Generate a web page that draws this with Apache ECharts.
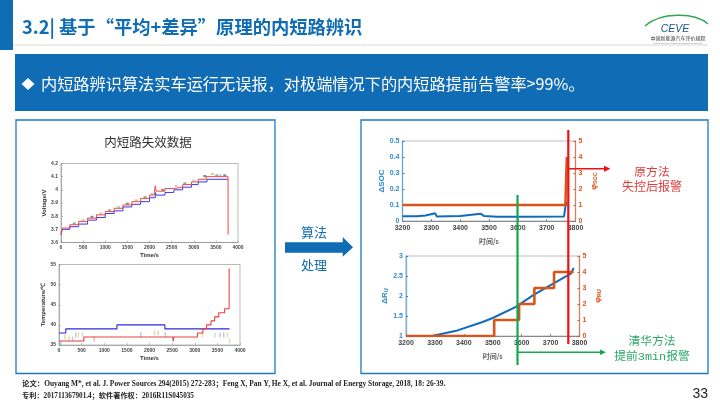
<!DOCTYPE html>
<html lang="zh">
<head>
<meta charset="UTF-8">
<title>内短路辨识</title>
<script src="https://cdn.jsdelivr.net/npm/echarts@6/dist/echarts.min.js"></script>
<style>
html,body{margin:0;padding:0;background:#fff}
#main{width:720px;height:405px}
</style>
</head>
<body>
<div id="main"></div>
<script>
// 电压 (左上)
var voltRedTime = [0,30,200,400,600,800,1000,1200,1400,1600,1800,2000,2110,2130,2150,2350,2550,2750,2950,3100,3280,3775,3776];
var voltRedVal  = [3.66,3.71,3.735,3.76,3.785,3.81,3.835,3.86,3.885,3.91,3.935,3.96,3.98,4.03,3.99,4.01,4.02,4.04,4.06,4.08,4.10,4.10,3.66];
var voltBlueTime = [0,30,200,400,600,800,1000,1200,1400,1600,1800,2000,2130,2150,2350,2550,2750,2950,3100,3300,3775];
var voltBlueVal  = [3.66,3.70,3.72,3.74,3.77,3.79,3.82,3.84,3.87,3.89,3.91,3.94,3.98,3.96,3.98,4.00,4.02,4.04,4.06,4.08,4.08];
var voltDotTime = [300,500,700,900,1100,1300,1500,1700,1900,2050,2300,2600,2800,3000,3250,3420,3520,3600,3700];
var voltDotVal  = [3.745,3.77,3.795,3.82,3.845,3.87,3.895,3.92,3.945,3.97,4.0,4.03,4.05,4.07,4.105,4.12,4.11,4.11,4.11];

// 温度 (左下)
var tempRedTime = [0,550,2520,2535,3060,3180,3260,3360,3440,3530,3660,3760,3770];
var tempRedVal  = [36,37,36,37,38,39,40,41,42,43,44,54,54];
var tempBlueTime = [0,150,1280,2340,3770];
var tempBlueVal  = [38,39,40,39,39];
var tempPaleTime = [40,130,220,300,370,430,520,780,1810,2110,2190,2350,2530,3170,3450,3560,3640,3720,3770];
var tempPaleVal  = [35.4,37,36.5,36.5,37.5,37.5,37.5,36.5,37.6,38,38,37.6,36.5,37.5,37.5,37.5,37.5,37.5,36];

// ΔSOC (右上)
var socTime = [3200,3250,3280,3313,3319,3400,3472,3482,3530,3640,3760,3765,3770];
var socDelta = [0.03,0.03,0.035,0.048,0.028,0.032,0.045,0.032,0.027,0.027,0.028,0.09,0.12];
var phiSocTime = [3200,3765,3770];
var phiSoc = [1,1,4];

// ΔRU (右下)
var ruTime = [3200,3290,3378,3465,3500,3580,3640,3700,3770,3780];
var ruDelta = [1,1,1.14,1.35,1.45,1.73,2.02,2.27,2.56,2.7];
var phiRuTime = [3200,3505,3591,3644,3712,3780];
var phiRu = [0,1,2,3,4,4];

var CJK = '"Noto Sans CJK SC"';
var BLUE = '#0f6cb5', MBLUE = '#2a8ad0', MORANGE = '#d9541a';
var RED = '#ee1111', GREEN = '#11a84e';

function zip(a, b) { return a.map(function (v, i) { return [v, b[i]]; }); }
function plain(v) { return String(v); }

function smallX(i, name) {
  return {
    type: 'value', gridIndex: i, min: 0, max: 4000, interval: 500,
    name: name, nameLocation: 'middle', nameGap: 10,
    nameTextStyle: { fontSize: 6, fontWeight: 'bold', color: '#333' },
    axisLine: { onZero: false, lineStyle: { color: '#888', width: 0.6 } },
    axisTick: { inside: true, length: 2, lineStyle: { color: '#888', width: 0.5 } },
    axisLabel: { fontSize: 5, margin: 3, color: '#444', fontWeight: 'bold', formatter: plain, showMinLabel: true, showMaxLabel: true },
    splitLine: { show: false }
  };
}
function smallY(i, name, min, max, interval, gap) {
  return {
    type: 'value', gridIndex: i, min: min, max: max, interval: interval,
    name: name, nameLocation: 'middle', nameGap: gap,
    nameTextStyle: { fontSize: 6, fontWeight: 'bold', color: '#333' },
    axisLine: { lineStyle: { color: '#888', width: 0.6 } },
    axisTick: { inside: true, length: 2, lineStyle: { color: '#888', width: 0.5 } },
    axisLabel: { fontSize: 5, margin: 3, color: '#444', fontWeight: 'bold' },
    splitLine: { show: false }
  };
}
function bigX(i) {
  return {
    type: 'value', gridIndex: i, min: 3200, max: 3800, interval: 100,
    name: '时间/s', nameLocation: 'middle', nameGap: 17,
    nameTextStyle: { fontSize: 7, color: '#666', fontFamily: CJK, fontWeight: 'bold' },
    axisLine: { onZero: false, lineStyle: { color: '#888', width: 1 } },
    axisTick: { inside: true, length: 2, lineStyle: { color: '#888' } },
    axisLabel: { fontSize: 7, margin: 4, color: '#444', fontWeight: 'bold', formatter: plain },
    splitLine: { show: false }
  };
}
function bigY(i, name, min, max, interval, color, pos) {
  return {
    type: 'value', gridIndex: i, position: pos, min: min, max: max, interval: interval,
    name: name, nameLocation: 'middle', nameGap: pos == 'left' ? 16 : 13, nameRotate: 90,
    nameTextStyle: {
      fontSize: 8, color: color, fontWeight: 'bold',
      rich: { s: { fontSize: 5.5, color: color, fontWeight: 'bold', verticalAlign: 'bottom', padding: [4, 0, 0, 0] },
              n: { fontSize: 8, color: color, fontWeight: 'bold' } }
    },
    axisLine: { show: true, onZero: false, lineStyle: { color: color, opacity: 0.55, width: 1.4 } },
    axisTick: { show: true, inside: true, length: 2, lineStyle: { color: color } },
    axisLabel: { fontSize: 7, margin: 3, color: color, fontWeight: 'bold' },
    splitLine: { show: false }
  };
}
function stepLine(x, y, xi, yi, color, width, step) {
  return {
    type: 'line', xAxisIndex: xi, yAxisIndex: yi, data: zip(x, y), step: step ? 'end' : false,
    showSymbol: false, silent: true, animation: false,
    lineStyle: { color: color, width: width }
  };
}
function pale(x, y, xi, yi, size, colors) {
  return {
    type: 'scatter', xAxisIndex: xi, yAxisIndex: yi, data: zip(x, y), symbol: 'rect', symbolSize: size,
    silent: true, animation: false,
    itemStyle: { color: function (p) { return colors[p.dataIndex % colors.length]; }, opacity: 0.7 }
  };
}
function label(x, y, text, fill, size, family) {
  return { type: 'text', x: x, y: y, style: { text: text, fill: fill, fontSize: size, fontFamily: family || CJK, align: 'center', verticalAlign: 'middle' } };
}

// 页面上的框、文字、标注
var frame = { stroke: '#1f78c1', lineWidth: 1.3, fill: 'none' };
var graphics = [
  { type: 'rect', shape: { x: 0, y: 0, width: 13, height: 50 }, style: { fill: BLUE } },
  { type: 'line', shape: { x1: 13, y1: 45, x2: 708, y2: 45 }, style: { stroke: '#d8d8d8', lineWidth: 1 } },
  { type: 'text', x: 22, y: 27, style: { text: '3.2| 基于“平均+差异”原理的内短路辨识', fill: BLUE, fontSize: 18.3, fontWeight: 'bold', fontFamily: CJK, verticalAlign: 'middle' } },
  { type: 'rect', shape: { x: 15, y: 54, width: 693, height: 57 }, style: { fill: BLUE } },
  { type: 'polygon', shape: { points: [[28, 78], [34.5, 84], [28, 90], [21.5, 84]] }, style: { fill: '#fff' } },
  { type: 'text', x: 41, y: 83.5, style: { text: '内短路辨识算法实车运行无误报，对极端情况下的内短路提前告警率>99%。', fill: '#fff', fontSize: 16.2, fontFamily: CJK, verticalAlign: 'middle' } },
  { type: 'rect', shape: { x: 16, y: 120, width: 259, height: 253.5 }, style: frame },
  { type: 'rect', shape: { x: 361, y: 120, width: 347, height: 253.5 }, style: frame },
  label(148, 142, '内短路失效数据', '#333', 12.5),
  label(314, 232, '算法', BLUE, 13),
  label(314, 265, '处理', BLUE, 13),
  { type: 'polygon', shape: { points: [[285, 242.3], [342.7, 242.3], [342.7, 237], [353, 247.3], [342.7, 256.7], [342.7, 252.7], [285, 252.7]] }, style: { fill: BLUE } },
  // 报警标注线
  { type: 'line', z: 100, shape: { x1: 517.5, y1: 195, x2: 517.5, y2: 365 }, style: { stroke: GREEN, lineWidth: 2.2 } },
  { type: 'line', z: 100, shape: { x1: 517.5, y1: 352.3, x2: 601, y2: 352.3 }, style: { stroke: GREEN, lineWidth: 1.4 } },
  { type: 'polygon', z: 100, shape: { points: [[600, 349.5], [606, 352.3], [600, 355]] }, style: { fill: GREEN } },
  { type: 'line', z: 101, shape: { x1: 568.3, y1: 130, x2: 568.3, y2: 344 }, style: { stroke: RED, lineWidth: 2.2 } },
  { type: 'line', z: 101, shape: { x1: 568.3, y1: 168.7, x2: 605, y2: 168.7 }, style: { stroke: RED, lineWidth: 1.4 } },
  { type: 'polygon', z: 101, shape: { points: [[604, 165.7], [610.5, 168.7], [604, 171.7]] }, style: { fill: RED } },
  label(652, 171.7, '原方法', '#e0403c', 11.8),
  label(652, 186, '失控后报警', '#e0403c', 12),
  label(652, 341, '清华方法', '#2aa86a', 11.8),
  label(652, 356.7, '提前3min报警', '#2aa86a', 11.8, '"Liberation Mono",' + CJK),
  // 参考文献
  { type: 'text', x: 22, y: 384, style: { text: '论文：Ouyang M*, et al. J. Power Sources 294(2015) 272-283；Feng X, Pan Y, He X, et al. Journal of Energy Storage, 2018, 18: 26-39.', fill: '#222', fontSize: 7.4, fontWeight: 'bold', fontFamily: '"Liberation Serif",' + CJK, verticalAlign: 'middle' } },
  { type: 'text', x: 22, y: 396, style: { text: '专利：201711367901.4；软件著作权：2016R11S045035', fill: '#222', fontSize: 7.2, fontWeight: 'bold', fontFamily: '"Liberation Serif",' + CJK, verticalAlign: 'middle' } },
  { type: 'text', x: 708, y: 394, style: { text: '33', fill: '#222', fontSize: 14, fontFamily: 'Liberation Sans', align: 'right', verticalAlign: 'middle' } },
  // logo
  { type: 'bezierCurve', shape: { x1: 645, y1: 26, cpx1: 660, cpy1: 12, x2: 708, y2: 24, cpx2: 695, cpy2: 12 }, style: { stroke: '#2fa84f', lineWidth: 1.4, fill: 'none' } },
  { type: 'text', x: 675, y: 29, style: { text: 'CEVE', fill: '#14558f', fontSize: 10.5, fontStyle: 'italic', fontFamily: 'Liberation Sans', align: 'center', verticalAlign: 'middle' } },
  label(678, 38, '中国新能源汽车评价规程', '#333', 5),
  label(678, 43, 'China Electric Vehicle Evaluation Procedure', '#888', 2.5, 'Liberation Sans')
];

var grids = [
  { left: 61, top: 163.5, width: 177, height: 79 },
  { left: 59, top: 264.5, width: 181, height: 80.5 },
  { left: 402.5, top: 141, width: 173, height: 80 },
  { left: 406, top: 256, width: 173.5, height: 80 }
].map(function (g) {
  g.show = true; g.borderColor = '#aaa'; g.borderWidth = 0.8; g.backgroundColor = 'transparent';
  return g;
});

var chart = echarts.init(document.getElementById('main'));
chart.setOption({
  animation: false,
  backgroundColor: '#fff',
  graphic: graphics,
  grid: grids,
  xAxis: [smallX(0, 'Time/s'), smallX(1, 'Time/s'), bigX(2), bigX(3)],
  yAxis: [
    smallY(0, 'Voltage/V', 3.6, 4.2, 0.1, 10),
    smallY(1, 'Temperature/℃', 35, 55, 5, 9),
    bigY(2, 'ΔSOC', 0, 0.5, 0.1, MBLUE, 'left'),
    bigY(2, '{n|φ}{s|SOC}', 0, 5, 1, MORANGE, 'right'),
    bigY(3, '{n|ΔR}{s|U}', 1, 3, 0.5, MBLUE, 'left'),
    bigY(3, '{n|φ}{s|RU}', 0, 5, 1, MORANGE, 'right')
  ],
  series: [
    pale(voltDotTime, voltDotVal, 0, 0, [3, 2], ['#6a8f5a', '#8fc7c0', '#555555', '#c9b46a']),
    stepLine(voltBlueTime, voltBlueVal, 0, 0, '#3a3ae0', 1, true),
    stepLine(voltRedTime, voltRedVal, 0, 0, '#ea4a4a', 1, true),
    pale(tempPaleTime, tempPaleVal, 1, 1, [1.5, 5], ['#7ac4e8', '#f0c27a', '#a8d8b0', '#e8a0a0']),
    stepLine(tempBlueTime, tempBlueVal, 1, 1, '#2a2ae0', 1.1, true),
    stepLine(tempRedTime, tempRedVal, 1, 1, '#ea4040', 1.1, true),
    stepLine(socTime, socDelta, 2, 2, '#0f6cbd', 2, false),
    stepLine(phiSocTime, phiSoc, 2, 3, MORANGE, 2.6, false),
    stepLine(ruTime, ruDelta, 3, 4, '#0f6cbd', 2, false),
    stepLine(phiRuTime, phiRu, 3, 5, MORANGE, 2.6, true)
  ]
});
</script>
</body>
</html>
